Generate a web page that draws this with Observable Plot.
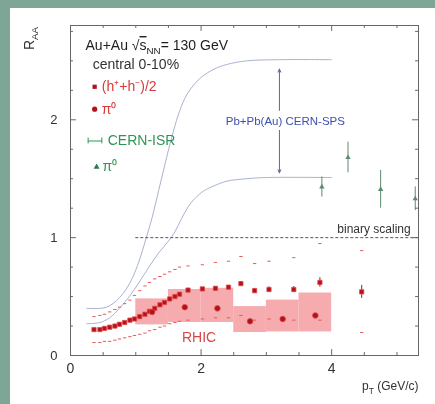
<!DOCTYPE html>
<html><head><meta charset="utf-8">
<script src="https://cdn.jsdelivr.net/npm/d3@7"></script>
<script src="https://cdn.jsdelivr.net/npm/@observablehq/plot@0.6"></script>
<style>
html,body{margin:0;padding:0;background:#7ea696;width:435px;height:404px;overflow:hidden}
#chart{position:absolute;left:10px;top:8px;width:425px;height:396px;background:#fff}
#chart svg{filter:blur(0.4px)}
</style></head><body><div id="chart"></div>
<script>
// Charged hadrons (h+ + h-)/2 : pT, R_AA, systematic low/high, stat error
const hPt  = [0.36,0.45,0.52,0.60,0.68,0.75,0.83,0.91,0.98,1.06,1.14,1.21,1.29,1.37,1.44,1.52,1.60,1.67,1.80,2.02,2.22,2.42,2.61,2.82,3.04,3.42,3.82,4.46];
const hR   = [0.22,0.22,0.23,0.24,0.25,0.265,0.28,0.30,0.31,0.33,0.35,0.375,0.40,0.43,0.45,0.48,0.50,0.52,0.555,0.565,0.57,0.58,0.61,0.55,0.56,0.56,0.62,0.54];
const hLo  = [0.11,0.11,0.12,0.12,0.13,0.14,0.15,0.16,0.17,0.18,0.19,0.21,0.22,0.24,0.25,0.27,0.28,0.29,0.30,0.31,0.32,0.32,0.34,0.30,0.31,0.30,0.30,0.195];
const hHi  = [0.33,0.34,0.35,0.37,0.39,0.41,0.44,0.47,0.51,0.55,0.59,0.62,0.65,0.67,0.69,0.71,0.73,0.75,0.76,0.77,0.79,0.80,0.84,0.78,0.80,0.83,0.95,0.89];
const hErr = [0.005,0.005,0.005,0.005,0.005,0.005,0.005,0.005,0.005,0.005,0.005,0.005,0.006,0.006,0.006,0.007,0.007,0.008,0.009,0.01,0.012,0.014,0.018,0.02,0.022,0.025,0.04,0.055];

// pi0 RHIC points and systematic boxes
const piPt = [1.25,1.75,2.25,2.75,3.25,3.75];
const piR  = [0.37,0.41,0.40,0.29,0.31,0.34];
const boxX1 = [1.0,1.5,2.0,2.5,3.0,3.5];
const boxX2 = [1.5,2.0,2.5,3.0,3.5,4.0];
const boxLo = [0.26,0.28,0.28,0.195,0.20,0.20];
const boxHi = [0.48,0.56,0.57,0.415,0.47,0.53];

// Pb+Pb(Au) CERN-SPS curves
const spsUpPt = [0.25,0.45,0.55,0.65,0.75,0.85,0.95,1.05,1.15,1.25,1.35,1.45,1.55,1.65,1.75,1.85,2.0,2.2,2.4,2.7,3.2,4.0];
const spsUp   = [0.40,0.40,0.41,0.44,0.49,0.56,0.66,0.80,0.98,1.17,1.40,1.63,1.85,2.04,2.18,2.27,2.36,2.43,2.47,2.50,2.51,2.51];
const spsLoPt = [0.25,0.45,0.6,0.75,0.9,1.05,1.2,1.35,1.5,1.6,1.7,1.8,1.9,2.05,2.2,2.4,2.7,3.0,4.0];
const spsLo   = [0.27,0.28,0.32,0.40,0.50,0.62,0.75,0.87,0.97,1.05,1.16,1.26,1.33,1.40,1.44,1.48,1.50,1.51,1.51];

// CERN-ISR pi0
const isrPt  = [3.85,4.25,4.75,5.28];
const isrR   = [1.43,1.68,1.41,1.33];
const isrErr = [0.085,0.13,0.16,0.10];

const xTicks = [0,2,4];
const yTicks = [0,1,2];

const H = hPt.map((x,i)=>({x, y:hR[i], lo:hLo[i], hi:hHi[i], e:hErr[i]}));
const P = piPt.map((x,i)=>({x, y:piR[i]}));
const B = boxX1.map((x1,i)=>({x1, x2:boxX2[i], y1:boxLo[i], y2:boxHi[i]}));
const SU = spsUpPt.map((x,i)=>({x, y:spsUp[i]}));
const SL = spsLoPt.map((x,i)=>({x, y:spsLo[i]}));
const I = isrPt.map((x,i)=>({x, y:isrR[i], e:isrErr[i]}));

const xMajor = xTicks, xMinor = d3.range(0.5, 5.3, 0.5).filter(v=>!xTicks.includes(v));
const yMajor = yTicks, yMinor = d3.range(0.25, 2.8, 0.25).filter(v=>!yTicks.includes(v));
const XMAX = 5.33, YMAX = 2.8;
const tc = "#666";
const red = "#b3121d", redL = "#e25a5c", green = "#2f9455", blueC = "#a9b3d0";
const F = "Liberation Sans, Arial, Helvetica, sans-serif";
const LF = 14;

const plot = Plot.plot({
  width: 425, height: 396,
  marginLeft: 60, marginRight: 17, marginTop: 17, marginBottom: 49,
  style: {fontFamily: F, background: "#fff", color: "#333"},
  x: {domain: [0, XMAX]},
  y: {domain: [0, YMAX]},
  marks: [
    Plot.rect(B, {x1:"x1", x2:"x2", y1:"y1", y2:"y2", fill:"#f5a2a5", fillOpacity:0.9}),
    Plot.line(SU, {x:"x", y:"y", stroke: blueC, strokeWidth: 1, curve: "catmull-rom"}),
    Plot.line(SL, {x:"x", y:"y", stroke: blueC, strokeWidth: 1, curve: "catmull-rom"}),
    Plot.arrow([{a:2.08, b:2.43},{a:1.91, b:1.55}], {x1: ()=>3.2, x2: ()=>3.2, y1:"a", y2:"b", stroke:"#5d6790", strokeWidth:1, headLength:5, headAngle:50}),
    Plot.ruleY([1], {x1: 1.0, x2: XMAX, stroke: "#555", strokeDasharray: "3,2", strokeWidth: 1}),
    Plot.link(H, {x1: d=>d.x-0.025, x2: d=>d.x+0.025, y1:"hi", y2:"hi", stroke: redL, strokeWidth: 1}),
    Plot.link(H, {x1: d=>d.x-0.025, x2: d=>d.x+0.025, y1:"lo", y2:"lo", stroke: redL, strokeWidth: 1}),
    Plot.ruleX(H, {x:"x", y1: d=>d.y-d.e, y2: d=>d.y+d.e, stroke: red, strokeWidth: 1}),
    Plot.dot(H, {x:"x", y:"y", symbol:"square", r:2.4, fill: red, stroke: "#e04848", strokeWidth: 0.8}),
    Plot.dot(P, {x:"x", y:"y", r:2.8, fill: red, stroke: "#e04848", strokeWidth: 0.8}),
    Plot.ruleX(I, {x:"x", y1: d=>d.y-d.e, y2: d=>d.y+d.e, stroke: "#5d8a70", strokeWidth: 1}),
    Plot.dot(I, {x:"x", y:"y", symbol:"triangle", r:2, fill: "#5d8a70"}),
    Plot.frame({stroke: tc, strokeWidth: 1}),
    Plot.ruleX(xMajor, {x: d=>d, y1: 0, y2: 0.05, stroke: tc}),
    Plot.ruleX(xMinor, {x: d=>d, y1: 0, y2: 0.025, stroke: tc}),
    Plot.ruleX(xMajor, {x: d=>d, y1: YMAX, y2: YMAX-0.05, stroke: tc}),
    Plot.ruleX(xMinor, {x: d=>d, y1: YMAX, y2: YMAX-0.025, stroke: tc}),
    Plot.ruleY(yMajor, {y: d=>d, x1: 0, x2: 0.09, stroke: tc}),
    Plot.ruleY(yMinor, {y: d=>d, x1: 0, x2: 0.045, stroke: tc}),
    Plot.ruleY(yMajor, {y: d=>d, x1: XMAX, x2: XMAX-0.09, stroke: tc}),
    Plot.ruleY(yMinor, {y: d=>d, x1: XMAX, x2: XMAX-0.045, stroke: tc}),
    Plot.axisX({ticks: xTicks, tickFormat: d3.format("d"), tickSize: 0, tickPadding: 8, fontSize: 14, label: null}),
    Plot.axisY({ticks: yTicks, tickFormat: d3.format("d"), tickSize: 0, tickPadding: 13, fontSize: 13, label: null}),
    Plot.text(["R_{AA}"], {x: -0.63, y: 2.69, text: d=>d, rotate: -90, fontSize: 14, fill: "#333"}),
    Plot.text(["p_{T} (GeV/c)"], {x: XMAX, y: -0.263, text: d=>d, textAnchor: "end", fontSize: 12, fill: "#333"}),
    Plot.text(["Au+Au √!{s}_{NN}= 130 GeV"], {x: 0.23, y: 2.63, text: d=>d, textAnchor: "start", fontSize: LF, fill: "#1e1e1e"}),
    Plot.text(["central 0-10%"], {x: 0.34, y: 2.47, text: d=>d, textAnchor: "start", fontSize: LF, fill: "#333"}),
    Plot.dot([{x:0.37, y:2.28}], {x:"x", y:"y", symbol:"square", r:2.4, fill: red}),
    Plot.text(["(h⁺+h⁻)/2"], {x: 0.48, y: 2.28, text: d=>d, textAnchor: "start", fontSize: LF, fill: "#d83a3a"}),
    Plot.dot([{x:0.37, y:2.09}], {x:"x", y:"y", r:2.6, fill: red}),
    Plot.text(["π⁰"], {x: 0.48, y: 2.09, text: d=>d, textAnchor: "start", fontSize: LF, fill: "#d83a3a"}),
    Plot.link([{a:0.27, b:0.48}], {x1:"a", x2:"b", y1: ()=>1.82, y2: ()=>1.82, stroke: green, strokeWidth: 1}),
    Plot.ruleX([0.27, 0.48], {x: d=>d, y1: 1.795, y2: 1.845, stroke: green}),
    Plot.text(["CERN-ISR"], {x: 0.57, y: 1.82, text: d=>d, textAnchor: "start", fontSize: LF, fill: green}),
    Plot.dot([{x:0.40, y:1.60}], {x:"x", y:"y", symbol:"triangle", r:2.2, fill: "#2d7a4c"}),
    Plot.text(["π⁰"], {x: 0.49, y: 1.60, text: d=>d, textAnchor: "start", fontSize: LF, fill: green}),
    Plot.text(["Pb+Pb(Au) CERN-SPS"], {x: 3.29, y: 1.99, text: d=>d, fontSize: 11.5, fill: "#3d4fae"}),
    Plot.text(["binary scaling"], {x: 5.21, y: 1.07, text: d=>d, textAnchor: "end", fontSize: 12, fill: "#333"}),
    Plot.text(["RHIC"], {x: 1.97, y: 0.153, text: d=>d, fontSize: 14, fill: "#d44848"})
  ]
});
document.getElementById("chart").append(plot);

// rich text: _{sub}, ^{sup}, !{overline}
d3.select(plot).selectAll("text").each(function(){
  const s = this.textContent;
  if (!/[_^!]\{/.test(s)) return;
  const fs = parseFloat(getComputedStyle(this).fontSize) || 12;
  const el = d3.select(this); el.text(null);
  const re = /([_^!])\{([^}]*)\}|([^_^!]+)/g; let m, shift = 0;
  while ((m = re.exec(s))) {
    if (m[3]) { el.append("tspan").attr("dy", -shift).text(m[3]); shift = 0; }
    else if (m[1] === "!") { el.append("tspan").attr("dy", -shift).style("text-decoration", "overline").text(m[2]); shift = 0; }
    else {
      const d = m[1] === "_" ? 0.3*fs : -0.4*fs;
      el.append("tspan").attr("dy", d - shift).attr("font-size", fs*0.7).text(m[2]);
      shift = d;
    }
  }
});
</script></body></html>
